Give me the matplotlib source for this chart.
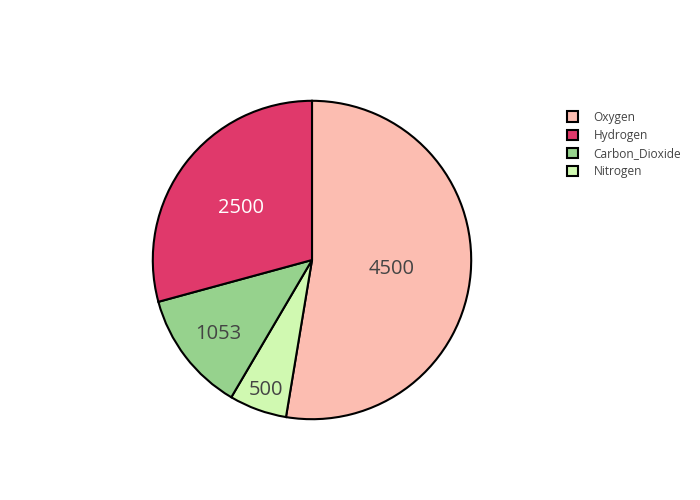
import matplotlib.pyplot as plt
from matplotlib.patches import Patch
import numpy as np

plt.rcParams['font.family'] = ['Open Sans', 'DejaVu Sans']

# Slices in drawing order (clockwise from top)
labels = ['Oxygen', 'Nitrogen', 'Carbon_Dioxide', 'Hydrogen']
values = [4500, 500, 1053, 2500]
colors = ['#FCBDB1', '#D0F9B1', '#96D28D', '#E0396B']
text_colors = ['#444444', '#444444', '#444444', '#FFFFFF']

# Legend order
legend_order = ['Oxygen', 'Hydrogen', 'Carbon_Dioxide', 'Nitrogen']

# radial position of each value label (fraction of radius)
label_r = [0.50, 0.85, 0.74, 0.56]

fig = plt.figure(figsize=(7, 5), dpi=100)
ax = fig.add_axes([152 / 700, 80 / 500, 320 / 700, 320 / 500])

wedges, _ = ax.pie(values, colors=colors, startangle=90, counterclock=False,
                   wedgeprops=dict(edgecolor='black', linewidth=1.5))
ax.set_xlim(-1.005, 1.005)
ax.set_ylim(-1.005, 1.005)
ax.set_aspect('equal')

# Value labels inside slices
for w, v, tc, r in zip(wedges, values, text_colors, label_r):
    mid = np.deg2rad((w.theta1 + w.theta2) / 2)
    ax.text(r * np.cos(mid), r * np.sin(mid) - 0.015, str(v), ha='center', va='center',
            fontsize=14.5, color=tc)

# Legend
handles = [Patch(facecolor=colors[labels.index(n)], edgecolor='black', linewidth=1.5, label=n)
           for n in legend_order]
fig.legend(handles=handles, loc='upper left', bbox_to_anchor=(556 / 700, 1 - 100 / 500),
           frameon=False, fontsize=8.6, handlelength=0.95, handleheight=0.95,
           handletextpad=1.3, labelspacing=0.42, labelcolor='#444444')

fig.savefig('out.png', dpi=100)
